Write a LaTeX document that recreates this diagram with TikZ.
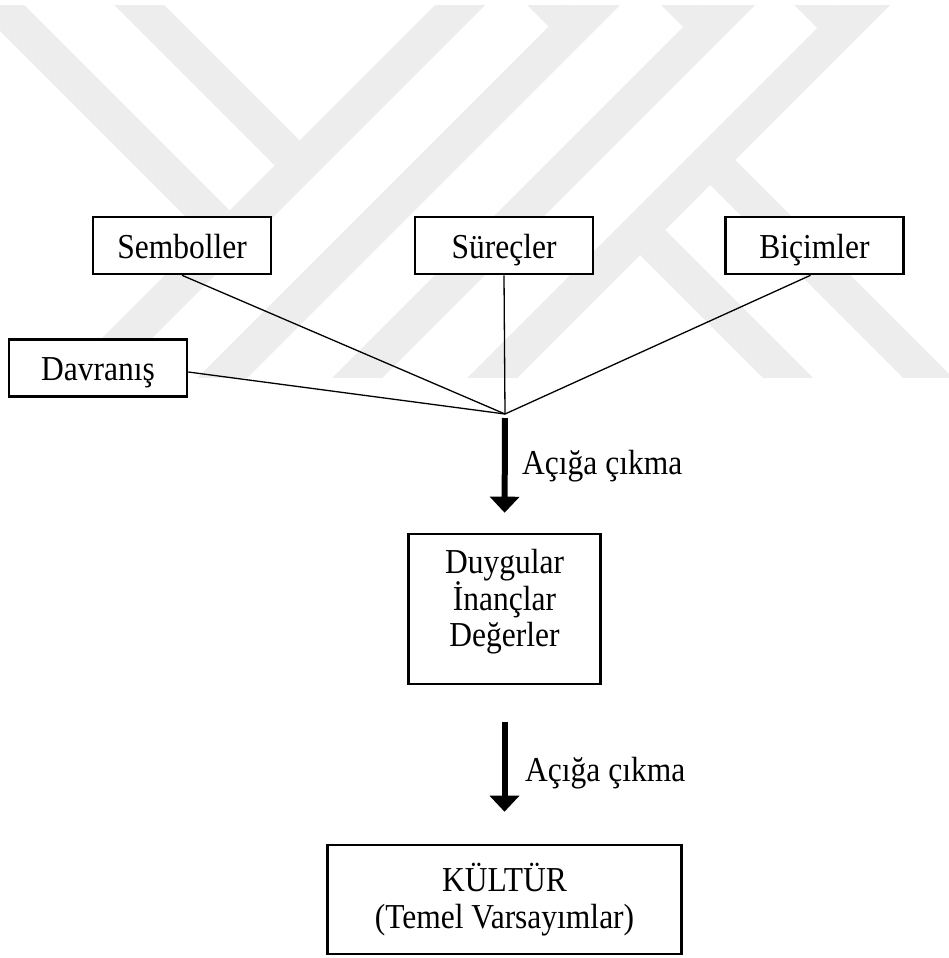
\documentclass[tikz,border=0pt]{standalone}
\usepackage{fontspec}
\setmainfont[FakeStretch=0.9]{Liberation Serif}
\usetikzlibrary{arrows.meta}
\definecolor{markgray}{RGB}{237,237,237}
\begin{document}
\begin{tikzpicture}[x=1pt,y=-1pt,
  every node/.style={inner sep=0pt,font=\fontsize{35}{36.5}\selectfont},
  box/.style={draw=black,fill=white,line width=2.6pt,minimum width=178pt,minimum height=57pt,
              text height=30pt,text depth=5pt},
  link/.style={line width=1.3pt},
  flow/.style={line width=6pt,-{Triangle[width=29pt,length=16pt]}},
  band/.style={fill=markgray}]
\useasboundingbox (0,0) rectangle (949,958);
\fill[white] (0,0) rectangle (949,958);

% light background emblem made of diagonal bands
\begin{scope}
  \clip (0,6) rectangle (949,377);
  \fill[band] (-31,0) -- (19,0) -- (229.5,210.5) -- (204.5,235.5) -- cycle;
  \fill[band] (109,0) -- (159,0) -- (299.5,140.5) -- (274.5,165.5) -- cycle;
  \foreach \d in {440,575,710,845}
    \fill[band] (\d,0) -- ({\d+50},0) -- ({\d-350},400) -- ({\d-400},400) -- cycle;
  \fill[band] (522,0) -- (575,0) -- (548.5,26.5) -- cycle;
  \fill[band] (656,0) -- (710,0) -- (683,27) -- cycle;
  \fill[band] (789,0) -- (845,0) -- (817,28) -- cycle;
  \fill[band] (640,255) -- (665,230) -- (835,400) -- (785,400) -- cycle;
  \fill[band] (710,185) -- (735,160) -- (975,400) -- (925,400) -- cycle;
\end{scope}

% top row and the side box
\node[box] (sem) at (182,245.5) {Semboller};
\node[box] (sur) at (504,245.5) {Süreçler};
\node[box] (bic) at (814.5,245.5) {Biçimler};
\node[box] (dav) at (98,368) {Davranış};
\coordinate (j) at (505,414);

\draw[link] (sem.south) -- (j);
\draw[link] (sur.south) -- (j);
\draw[link] ([xshift=-4pt]bic.south) -- (j);
\draw[link] ([yshift=-4pt]dav.east) -- (j);

% middle level
\node[box,minimum width=192pt,minimum height=150pt,text height=,text depth=] (deg) at (504.5,609) {};
\node[align=center] (degtxt) at (504.5,602) {Duygular\\İnançlar\\Değerler};

% bottom level
\node[box,minimum width=354pt,minimum height=109pt,text height=,text depth=,align=center] (kul) at (504.5,899.5)
  {KÜLTÜR\\(Temel Varsayımlar)};

% arrows with their labels
\draw[flow,shorten <=4pt,shorten >=20pt] (j) -- (deg.north);
\node[anchor=base west] (lab1) at (522,474) {Açığa çıkma};
\draw[flow,shorten <=37pt,shorten >=32pt] (deg.south) -- (kul.north);
\node[anchor=base west] (lab2) at (525,781) {Açığa çıkma};
\end{tikzpicture}
\end{document}
